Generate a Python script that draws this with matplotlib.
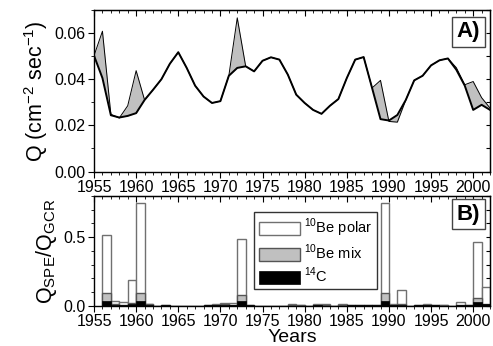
import matplotlib.pyplot as plt
import numpy as np
from matplotlib.ticker import MultipleLocator, NullFormatter

plt.rcParams['font.family'] = ['Liberation Sans', 'DejaVu Sans']
plt.rcParams['mathtext.fontset'] = 'custom'
plt.rcParams['mathtext.rm'] = 'Liberation Sans'

# panel A: production rate (thick = base, thin = with SPE)
years = np.arange(1955, 2003)
q_base = [0.0502, 0.0405, 0.0244, 0.0234, 0.0241, 0.0253, 0.0310, 0.0354, 0.0400, 0.0467,
          0.0517, 0.0449, 0.0372, 0.0325, 0.0297, 0.0305, 0.0415, 0.0449, 0.0456, 0.0434,
          0.0480, 0.0495, 0.0485, 0.0420, 0.0333, 0.0297, 0.0267, 0.0250, 0.0285, 0.0314,
          0.0405, 0.0485, 0.0496, 0.0362, 0.0227, 0.0221, 0.0245, 0.0310, 0.0395, 0.0415,
          0.0460, 0.0482, 0.0490, 0.0441, 0.0372, 0.0267, 0.0289, 0.0267]
q_spe = [0.0502, 0.0608, 0.0248, 0.0232, 0.0285, 0.0437, 0.0310, 0.0354, 0.0400, 0.0467,
         0.0517, 0.0449, 0.0372, 0.0325, 0.0297, 0.0305, 0.0415, 0.0666, 0.0456, 0.0434,
         0.0480, 0.0495, 0.0485, 0.0420, 0.0333, 0.0297, 0.0267, 0.0250, 0.0285, 0.0314,
         0.0405, 0.0485, 0.0496, 0.0362, 0.0395, 0.0217, 0.0214, 0.0310, 0.0395, 0.0415,
         0.0460, 0.0482, 0.0490, 0.0450, 0.0376, 0.0390, 0.0320, 0.0275]

# panel B: SPE / GCR ratio per year
bar_years = np.arange(1956, 2002)
be_polar = [0.518, 0.035, 0.028, 0.190, 0.746, 0.014, 0.002, 0.003, 0.001, 0.001,
            0.002, 0.002, 0.005, 0.012, 0.024, 0.023, 0.488, 0.003, 0.001, 0.001,
            0.001, 0.002, 0.010, 0.006, 0.002, 0.015, 0.013, 0.002, 0.013, 0.004,
            0.005, 0.003, 0.005, 0.746, 0.010, 0.113, 0.002, 0.003, 0.012, 0.008,
            0.006, 0.002, 0.030, 0.008, 0.465, 0.140]
be_mix = [0.094, 0.012, 0.008, 0.020, 0.096, 0.012, 0.002, 0.003, 0.001, 0.001,
          0.002, 0.002, 0.004, 0.008, 0.010, 0.008, 0.077, 0.003, 0.001, 0.001,
          0.001, 0.002, 0.005, 0.004, 0.002, 0.006, 0.005, 0.002, 0.005, 0.004,
          0.005, 0.003, 0.005, 0.096, 0.008, 0.010, 0.002, 0.003, 0.005, 0.005,
          0.004, 0.002, 0.008, 0.006, 0.058, 0.015]
c14 = [0.037, 0.006, 0.004, 0.012, 0.037, 0.005, 0.002, 0.003, 0.001, 0.001,
       0.001, 0.001, 0.003, 0.004, 0.004, 0.004, 0.035, 0.003, 0.001, 0.001,
       0.001, 0.001, 0.002, 0.002, 0.001, 0.003, 0.002, 0.001, 0.002, 0.003,
       0.004, 0.003, 0.004, 0.037, 0.005, 0.004, 0.002, 0.003, 0.003, 0.003,
       0.002, 0.002, 0.003, 0.004, 0.025, 0.010]

fig = plt.figure(figsize=(4.93, 3.46), dpi=100)
ax1 = fig.add_axes([0.1907, 0.5043, 0.8033, 0.4668])
ax2 = fig.add_axes([0.1907, 0.116, 0.8033, 0.3175])

# top panel
ax1.fill_between(years, q_base, q_spe, color='#c0c0c0', lw=0)
ax1.plot(years, q_spe, color='k', lw=0.7)
ax1.plot(years, q_base, color='k', lw=1.4)
ax1.set_ylim(0, 0.07)
ax1.set_ylabel('Q (cm$^{-2}$ sec$^{-1}$)', fontsize=15.5, labelpad=3)
ax1.yaxis.set_major_locator(MultipleLocator(0.02))
ax1.yaxis.set_minor_locator(MultipleLocator(0.01))
ax1.yaxis.set_major_formatter(plt.FuncFormatter(lambda v, p: '%.2f' % v))
ax1.text(0.975, 0.93, 'A)', transform=ax1.transAxes, ha='right', va='top',
         fontsize=16, fontweight='bold',
         bbox=dict(boxstyle='square,pad=0.2', fc='white', ec='#444444', lw=1))

# bottom panel: overlaid bars from zero
ax2.bar(bar_years, be_polar, width=1, align='edge', color='white', edgecolor='#707070',
        lw=1, label='$^{10}$Be polar')
ax2.bar(bar_years, be_mix, width=1, align='edge', color='#c0c0c0', edgecolor='#555555',
        lw=1, label='$^{10}$Be mix')
ax2.bar(bar_years, c14, width=1, align='edge', color='black', edgecolor='black',
        lw=0.5, label='$^{14}$C')
ax2.set_ylim(0, 0.8)
ax2.yaxis.set_major_locator(MultipleLocator(0.5))
ax2.yaxis.set_minor_locator(MultipleLocator(0.1))
ax2.set_ylabel('Q$_{\\mathrm{SPE}}$/Q$_{\\mathrm{GCR}}$', fontsize=15.5, labelpad=3)
ax2.set_xlabel('Years', fontsize=14, labelpad=0)
ax2.legend(loc='upper left', bbox_to_anchor=(0.405, 0.85), fontsize=10.5, frameon=True,
           fancybox=False, edgecolor='#333333', framealpha=1, handlelength=2.8,
           handleheight=1.0, borderpad=0.3, labelspacing=0.25, handletextpad=0.3,
           borderaxespad=0)
ax2.text(0.975, 0.93, 'B)', transform=ax2.transAxes, ha='right', va='top',
         fontsize=16, fontweight='bold',
         bbox=dict(boxstyle='square,pad=0.2', fc='white', ec='#444444', lw=1))

for ax in (ax1, ax2):
    ax.set_xlim(1955, 2002)
    ax.xaxis.set_major_locator(MultipleLocator(5))
    ax.xaxis.set_minor_locator(MultipleLocator(1))
    ax.tick_params(which='both', direction='out', top=False, right=False,
                   labelsize=11.5, pad=2)
    ax.tick_params(which='major', length=4)
    ax.tick_params(which='minor', length=2)
    top = ax.secondary_xaxis('top')
    top.xaxis.set_major_locator(MultipleLocator(5))
    top.xaxis.set_minor_locator(MultipleLocator(1))
    top.xaxis.set_major_formatter(NullFormatter())
    top.tick_params(which='both', direction='in')
    top.tick_params(which='major', length=4)
    top.tick_params(which='minor', length=2)
    right = ax.secondary_yaxis('right')
    right.yaxis.set_major_locator(ax.yaxis.get_minor_locator())
    right.yaxis.set_major_formatter(NullFormatter())
    right.tick_params(direction='in', length=3)
    for s in ax.spines.values():
        s.set_linewidth(1)

fig.savefig('out.png', dpi=100)
